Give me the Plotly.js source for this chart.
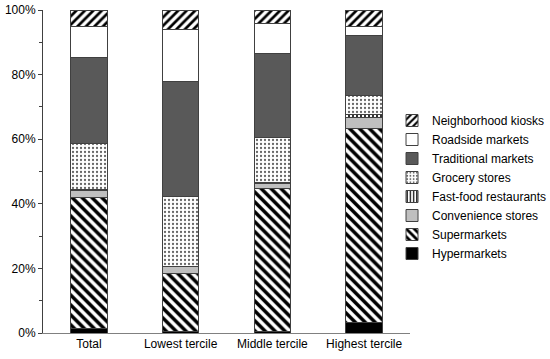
<!DOCTYPE html>
<html>
<head>
<meta charset="utf-8">
<script src="https://cdn.plot.ly/plotly-3.0.1.min.js"></script>
<style>html,body{margin:0;padding:0;background:#fff;}#chart{width:550px;height:359px;}</style>
</head>
<body>
<div id="chart"></div>
<script>
const categories = ["Total", "Lowest tercile", "Middle tercile", "Highest tercile"];
const hypermarkets = [1.5, 0.4, 0.5, 3.2];
const supermarkets = [40.4, 18.1, 44.2, 60.0];
const convenienceStores = [2.3, 2.0, 1.5, 3.5];
const fastFood = [0.3, 0.2, 0.3, 0.8];
const groceryStores = [14.1, 21.7, 14.0, 6.0];
const traditionalMarkets = [26.7, 35.5, 26.1, 18.5];
const roadsideMarkets = [9.6, 16.2, 9.3, 3.0];
const neighborhoodKiosks = [5.1, 5.9, 4.1, 5.0];
const yTickVals = [0, 20, 40, 60, 80, 100];
const yTickText = ["0%", "20%", "40%", "60%", "80%", "100%"];

const lineStyle = {color: "#404040", width: 1};
function tr(name, vals, marker) {
  return {type: "bar", name: name, x: categories, y: vals,
    marker: Object.assign({line: lineStyle}, marker), hoverinfo: "y+name"};
}
const data = [
  tr("Hypermarkets", hypermarkets, {color: "#000000"}),
  tr("Supermarkets", supermarkets, {color: "#ffffff", pattern: {shape: "\\", fgcolor: "#000000", bgcolor: "#ffffff", size: 7, solidity: 0.5, fillmode: "replace"}}),
  tr("Convenience stores", convenienceStores, {color: "#bfbfbf"}),
  tr("Fast-food restaurants", fastFood, {color: "#ffffff", pattern: {shape: "|", fgcolor: "#000000", bgcolor: "#ffffff", size: 4, solidity: 0.4, fillmode: "replace"}}),
  tr("Grocery stores", groceryStores, {color: "#ffffff", pattern: {shape: ".", fgcolor: "#666666", bgcolor: "#ffffff", size: 4, solidity: 0.25, fillmode: "replace"}}),
  tr("Traditional markets", traditionalMarkets, {color: "#595959"}),
  tr("Roadside markets", roadsideMarkets, {color: "#ffffff"}),
  tr("Neighborhood kiosks", neighborhoodKiosks, {color: "#ffffff", pattern: {shape: "/", fgcolor: "#000000", bgcolor: "#ffffff", size: 6, solidity: 0.45, fillmode: "replace"}})
];

const layout = {
  width: 550, height: 359,
  margin: {l: 43, r: 140, t: 10, b: 26, autoexpand: false},
  barmode: "stack",
  bargap: 0.6,
  paper_bgcolor: "#ffffff", plot_bgcolor: "#ffffff",
  font: {family: "Arial, 'Liberation Sans', sans-serif", size: 12, color: "#000000"},
  showlegend: true,
  legend: {traceorder: "reversed", x: 0.951, xanchor: "left", y: 0.452, yanchor: "middle",
    font: {size: 12}, bgcolor: "rgba(0,0,0,0)", borderwidth: 0},
  xaxis: {showline: true, linecolor: "#808080", linewidth: 1, ticks: "", showgrid: false,
    zeroline: false, tickfont: {size: 12}},
  yaxis: {range: [0, 100], tickvals: yTickVals, ticktext: yTickText, ticks: "outside",
    ticklen: 4, tickcolor: "#404040", showline: true, linecolor: "#404040", linewidth: 1,
    showgrid: false, zeroline: false, tickfont: {size: 12},
    minor: {dtick: 10, ticks: "outside", ticklen: 3, tickcolor: "#404040", showgrid: false}}
};
Plotly.newPlot("chart", data, layout, {displayModeBar: false, staticPlot: true});
</script>
</body>
</html>
